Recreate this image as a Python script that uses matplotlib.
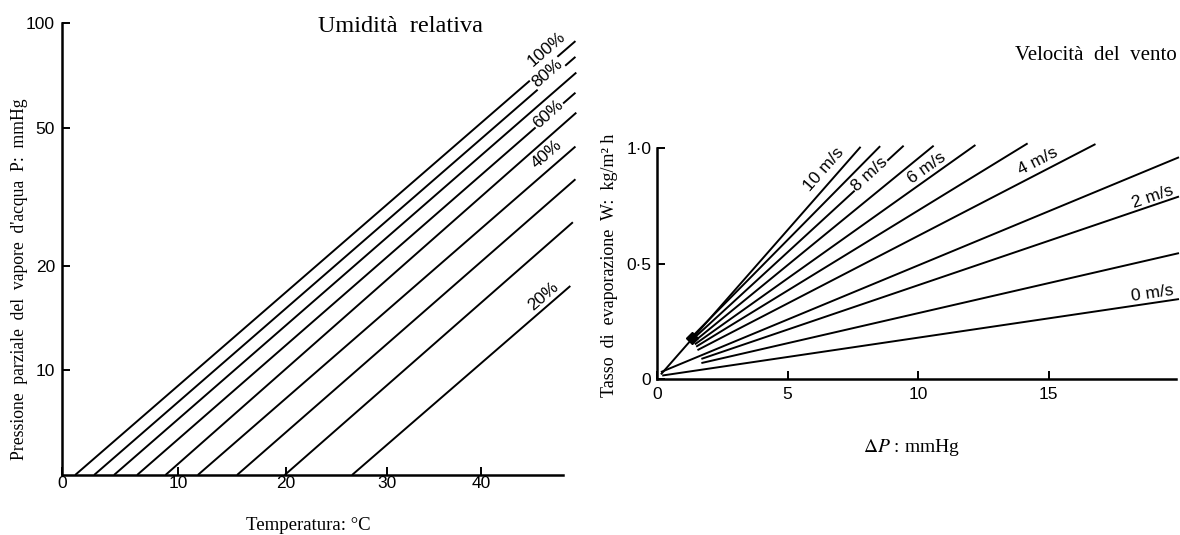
import numpy as np
import matplotlib.pyplot as plt
import matplotlib.ticker as mticker

plt.rcParams['font.family'] = ['Liberation Sans', 'DejaVu Sans']
plt.rcParams['mathtext.fontset'] = 'stix'
SERIF = ['Liberation Serif', 'DejaVu Serif']

# left chart: relative humidity lines (temperature degC, pressure mmHg)
rh_levels = [100, 90, 80, 70, 60, 50, 40, 30, 20]
t_start = [1.1, 2.7, 4.4, 6.4, 8.9, 11.8, 15.4, 19.9, 26.5]
p_start = [5, 5, 5, 5, 5, 5, 5, 5, 5]
t_end = [50.7, 50.7, 50.8, 50.7, 50.8, 50.7, 50.7, 50.4, 50.1]
p_end = [88.7, 79.9, 72.0, 63.0, 55.2, 44.1, 35.5, 26.7, 17.5]
rh_labels = ['100%', '80%', '60%', '40%', '20%']
rh_label_line = [0, 2, 4, 6, 8]
rh_label_t = [47.4, 47.5, 47.5, 47.4, 47.0]
rh_label_p = [84.2, 71.5, 54.8, 41.9, 16.4]
rh_label_box = [False, True, True, False, False]
t_ticks = [0, 10, 20, 30, 40]
p_ticks = [10, 20, 50, 100]

# right chart: evaporation rate vs vapour pressure difference
wind = [0, 1, 2, 3, 4, 5, 6, 7, 8, 9, 10]
dp_start = [0.2, 1.7, 1.7, 0.15, 1.55, 1.5, 1.45, 1.4, 1.35, 1.3, 0.15]
w_start = [0.015, 0.069, 0.087, 0.03, 0.125, 0.14, 0.15, 0.16, 0.17, 0.178, 0.02]
dp_end = [20, 20, 20, 20, 16.8, 14.2, 12.2, 10.6, 9.45, 8.55, 7.8]
w_end = [0.346, 0.545, 0.79, 0.96, 1.017, 1.02, 1.013, 1.01, 1.01, 1.008, 1.005]
blob_dp = [1.33]
blob_w = [0.176]
wind_labels = ['0 m/s', '2 m/s', '4 m/s', '6 m/s', '8 m/s', '10 m/s']
wind_label_line = [0, 2, 4, 6, 8, 10]
wind_label_dp = [19.0, 19.0, 14.6, 10.34, 8.16, 6.4]
wind_label_w = [0.372, 0.788, 0.944, 0.913, 0.885, 0.909]
wind_label_box = [False, False, False, False, True, False]
dp_ticks = [0, 5, 10, 15]
w_ticks = [0, 0.5, 1.0]
w_tick_labels = ['0', '0·5', '1·0']


def seg_angle(ax, x0, y0, x1, y1):
    a = ax.transData.transform((x0, y0))
    b = ax.transData.transform((x1, y1))
    return np.degrees(np.arctan2(b[1] - a[1], b[0] - a[0]))


def style_axes(ax):
    for s in ['top', 'right']:
        ax.spines[s].set_visible(False)
    for s in ['left', 'bottom']:
        ax.spines[s].set_linewidth(1.8)
    ax.tick_params(which='both', direction='in', length=6, width=1.4,
                   labelsize=12.5, color='black')


W, H = 1180, 535
fig = plt.figure(figsize=(W / 100, H / 100), dpi=100)

# ---------------- left panel ----------------
axL = fig.add_axes([62 / W, 1 - 475 / H, (578 - 62) / W, (475 - 23) / H])
fwd = lambda t: -1.0 / (np.asarray(t, dtype=float) + 273.15)
inv = lambda u: -1.0 / np.asarray(u, dtype=float) - 273.15
axL.set_xscale('function', functions=(fwd, inv))
axL.set_yscale('log')
axL.set_xlim(0, 51)
axL.set_ylim(5, 100)
style_axes(axL)
axL.spines['bottom'].set_bounds(0, 49.3)
axL.spines['left'].set_bounds(5, 100)
axL.xaxis.set_major_locator(mticker.FixedLocator(t_ticks))
axL.xaxis.set_major_formatter(mticker.FixedFormatter([str(t) for t in t_ticks]))
axL.xaxis.set_minor_locator(mticker.NullLocator())
axL.yaxis.set_major_locator(mticker.FixedLocator(p_ticks))
axL.yaxis.set_major_formatter(mticker.FixedFormatter([str(p) for p in p_ticks]))
axL.yaxis.set_minor_locator(mticker.NullLocator())
axL.tick_params(axis='x', pad=1)
axL.tick_params(axis='y', pad=5)

for i in range(len(rh_levels)):
    axL.plot([t_start[i], t_end[i]], [p_start[i], p_end[i]], color='black',
             lw=1.4, solid_capstyle='butt', clip_on=False)

for lab, li, tx, py, box in zip(rh_labels, rh_label_line, rh_label_t, rh_label_p, rh_label_box):
    ang = seg_angle(axL, t_start[li], p_start[li], t_end[li], p_end[li])
    kw = {}
    if box:
        kw['bbox'] = dict(facecolor='white', edgecolor='none', pad=0.6)
    axL.text(tx, py, lab, rotation=ang, rotation_mode='anchor', ha='center',
             va='center', fontsize=12.5, zorder=5, **kw)

fig.text(400 / W, 1 - 27 / H, 'Umidità  relativa', ha='center', va='center',
         family=SERIF, fontsize=17.5)
fig.text(308 / W, 1 - 525 / H, 'Temperatura: °C', ha='center', va='center',
         family=SERIF, fontsize=13.5)
fig.text(20 / W, 1 - 279 / H, "Pressione  parziale  del  vapore  d'acqua  P:  mmHg",
         ha='center', va='center', rotation=90, family=SERIF, fontsize=12.7)

# ---------------- right panel ----------------
axR = fig.add_axes([657 / W, 1 - 379 / H, (1179 - 657) / W, 1.05 * 231 / H])
axR.set_xlim(0, 20)
axR.set_ylim(0, 1.05)
style_axes(axR)
axR.spines['bottom'].set_bounds(0, 19.9)
axR.spines['left'].set_bounds(0, 1.0)
axR.xaxis.set_major_locator(mticker.FixedLocator(dp_ticks))
axR.xaxis.set_major_formatter(mticker.FixedFormatter([str(d) for d in dp_ticks]))
axR.yaxis.set_major_locator(mticker.FixedLocator(w_ticks))
axR.yaxis.set_major_formatter(mticker.FixedFormatter(w_tick_labels))
axR.tick_params(axis='x', pad=6)
axR.tick_params(axis='y', pad=4)

for i in range(len(wind)):
    axR.plot([dp_start[i], dp_end[i]], [w_start[i], w_end[i]], color='black',
             lw=1.4, solid_capstyle='butt', clip_on=False)
axR.plot(blob_dp, blob_w, marker='D', ms=6, color='black', ls='none')

for lab, li, dx, wy, box in zip(wind_labels, wind_label_line, wind_label_dp, wind_label_w, wind_label_box):
    ang = seg_angle(axR, dp_start[li], w_start[li], dp_end[li], w_end[li])
    kw = {}
    if box:
        kw['bbox'] = dict(facecolor='white', edgecolor='none', pad=0.6)
    axR.text(dx, wy, lab, rotation=ang, rotation_mode='anchor', ha='center',
             va='center', fontsize=12.5, zorder=5, clip_on=False, **kw)

fig.text(1177 / W, 1 - 55 / H, 'Velocità  del  vento', ha='right', va='center',
         family=SERIF, fontsize=15)
fig.text(911 / W, 1 - 447 / H, r'$\Delta P$ : mmHg', ha='center', va='center',
         family=SERIF, fontsize=14)
fig.text(610 / W, 1 - 265 / H, 'Tasso  di  evaporazione  W:  kg/m² h',
         ha='center', va='center', rotation=90, family=SERIF, fontsize=13)

fig.savefig('out.png', dpi=100, facecolor='white')
